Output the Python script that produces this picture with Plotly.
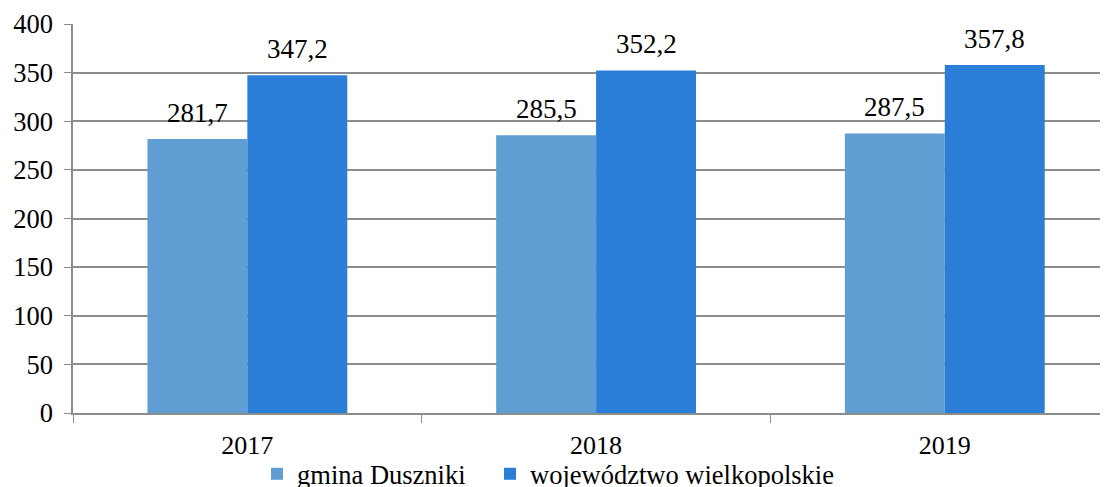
import plotly.graph_objects as go

years = ["2017", "2018", "2019"]
gmina = [281.7, 285.5, 287.5]
woj = [347.2, 352.2, 357.8]
names = ["gmina Duszniki", "województwo wielkopolskie"]
colors = ["#5F9ED2", "#2A7ED8"]

SERIF = "Times New Roman"

fig = go.Figure()
for vals, name, col, lg in zip([gmina, woj], names, colors, ["legend", "legend2"]):
    fig.add_trace(go.Bar(
        x=years, y=vals, name=name, marker_color=col,
        marker_line_width=0, legend=lg,
    ))

# data labels (offset to sit above each bar of the group)
for vals, dx in zip([gmina, woj], [-50, 50]):
    for i, v in enumerate(vals):
        fig.add_annotation(
            x=i, y=v, xref="x", yref="y", xshift=dx, yshift=9,
            text=f"{v:.1f}".replace(".", ","), showarrow=False,
            yanchor="bottom", xanchor="center",
            font=dict(family=SERIF, size=27, color="black"),
        )

legend_common = dict(orientation="h", xanchor="left",
                     yref="container", xref="container", y=0.027, yanchor="middle",
                     bgcolor="rgba(0,0,0,0)",
                     font=dict(family=SERIF, size=26.5, color="black"),
                     itemwidth=30, tracegroupgap=0)

fig.update_layout(
    width=1100, height=479,
    margin=dict(l=64.7, r=0, t=16, b=74, autoexpand=False),
    paper_bgcolor="white", plot_bgcolor="white",
    barmode="group", bargap=0.427, bargroupgap=0,
    font=dict(family=SERIF, size=26, color="black"),
    showlegend=True,
    legend=dict(x=0.2264, **legend_common),
    legend2=dict(x=0.4382, **legend_common),
)
fig.update_yaxes(range=[0, 400], dtick=50, showgrid=True, gridcolor="#8c8c8c", gridwidth=1.5,
                 showline=True, linecolor="#8c8c8c", linewidth=1.5,
                 ticks="outside", ticklen=7, tickcolor="#8c8c8c",
                 tickfont=dict(family=SERIF, size=26.5, color="black"),
                 ticklabelstandoff=6,
                 zeroline=False, automargin=False)
fig.update_xaxes(type="category", range=[-0.5, 2.468],
                 showline=True, linecolor="#8c8c8c", linewidth=1.5,
                 ticks="outside", tickson="boundaries", ticklen=8, tickcolor="#8c8c8c",
                 tickfont=dict(family=SERIF, size=26, color="black"),
                 ticklabelstandoff=8,
                 automargin=False)

fig.write_html("out.html")
